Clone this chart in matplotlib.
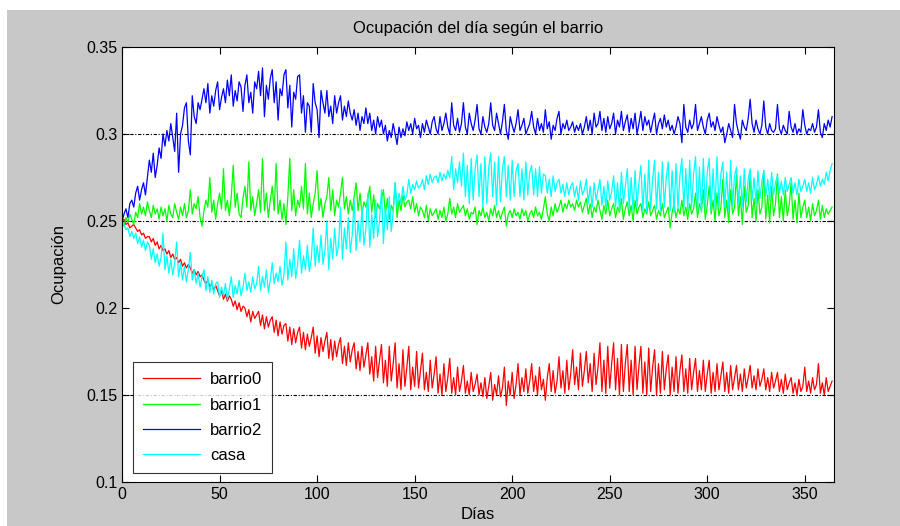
import matplotlib
matplotlib.use('Agg')
import matplotlib.pyplot as plt
import numpy as np
from matplotlib.patches import Rectangle

plt.rcParams['font.family'] = ['Liberation Sans Narrow', 'Liberation Sans', 'DejaVu Sans']

# daily occupancy, in thousandths, one row per week
barrio0 = [
    250, 251, 248, 249, 246, 247, 248,
    246, 244, 245, 242, 243, 240, 241,
    241, 238, 240, 236, 238, 234, 236,
    233, 234, 231, 233, 229, 231, 228,
    229, 226, 228, 224, 226, 223, 225,
    223, 220, 222, 219, 221, 218, 219,
    216, 214, 216, 212, 214, 210, 213,
    210, 207, 210, 205, 208, 204, 207,
    205, 201, 204, 199, 203, 198, 201,
    200, 195, 199, 192, 198, 194, 196,
    198, 190, 196, 188, 195, 189, 193,
    195, 186, 193, 184, 192, 185, 190,
    191, 181, 189, 179, 188, 180, 186,
    189, 177, 186, 176, 185, 178, 183,
    189, 174, 184, 172, 183, 175, 181,
    186, 171, 182, 170, 181, 172, 179,
    183, 168, 178, 167, 180, 169, 176,
    180, 165, 175, 164, 178, 166, 173,
    180, 162, 172, 158, 178, 160, 170,
    179, 157, 170, 155, 178, 158, 168,
    180, 154, 168, 153, 176, 155, 166,
    178, 153, 166, 155, 175, 154, 164,
    174, 153, 163, 152, 170, 154, 162,
    172, 151, 162, 150, 168, 152, 160,
    171, 151, 160, 150, 166, 152, 158,
    167, 151, 158, 150, 163, 152, 156,
    162, 150, 157, 149, 160, 148, 155,
    163, 147, 156, 150, 161, 149, 154,
    166, 144, 158, 150, 163, 148, 156,
    168, 150, 160, 152, 165, 151, 158,
    168, 152, 161, 150, 166, 153, 159,
    147, 160, 168, 152, 164, 151, 158,
    172, 154, 164, 151, 170, 153, 162,
    176, 156, 166, 153, 174, 155, 164,
    175, 157, 168, 152, 174, 156, 166,
    180, 152, 170, 151, 178, 154, 168,
    180, 153, 171, 150, 179, 152, 168,
    179, 152, 170, 150, 178, 153, 167,
    178, 151, 169, 150, 177, 152, 166,
    176, 150, 168, 151, 175, 153, 165,
    173, 150, 166, 152, 172, 151, 164,
    173, 152, 165, 151, 171, 153, 163,
    171, 152, 164, 153, 170, 152, 162,
    170, 151, 163, 152, 168, 153, 161,
    169, 152, 163, 151, 167, 153, 160,
    167, 153, 162, 152, 165, 154, 160,
    167, 154, 161, 153, 165, 155, 159,
    165, 153, 160, 152, 163, 154, 158,
    163, 152, 159, 151, 162, 153, 157,
    160, 151, 157, 150, 159, 152, 155,
    166, 152, 158, 151, 160, 153, 156,
    168, 151, 157, 150, 160, 152, 155,
    158,
]

barrio1 = [
    250, 247, 252, 249, 254, 251, 248,
    255, 252, 260, 254, 258, 253, 261,
    256, 252, 259, 254, 257, 251, 258,
    253, 257, 250, 259, 254, 252, 260,
    255, 251, 258, 253, 260, 252, 256,
    268, 254, 260, 257, 264, 252, 247,
    256, 262, 258, 275, 255, 262, 251,
    260, 266, 257, 280, 256, 262, 253,
    264, 282, 258, 266, 254, 252, 263,
    270, 258, 284, 256, 264, 253, 260,
    268, 255, 286, 256, 266, 252, 262,
    270, 256, 283, 254, 262, 251, 260,
    248, 264, 286, 256, 268, 253, 262,
    258, 270, 257, 283, 254, 266, 252,
    260, 266, 279, 256, 263, 252, 260,
    264, 275, 256, 268, 253, 262, 258,
    266, 275, 257, 264, 254, 262, 256,
    264, 272, 256, 266, 254, 261, 258,
    263, 270, 255, 265, 252, 260, 257,
    262, 268, 254, 263, 251, 259, 256,
    272, 252, 262, 256, 265, 258, 261,
    262, 257, 264, 255, 260, 253, 258,
    256, 252, 259, 250, 257, 253, 255,
    257, 251, 256, 252, 258, 250, 254,
    263, 254, 258, 252, 260, 255, 257,
    259, 253, 257, 251, 255, 254, 258,
    248, 256, 253, 258, 252, 255, 250,
    257, 253, 259, 252, 256, 251, 255,
    258, 247, 254, 256, 252, 257, 253,
    255, 251, 257, 253, 256, 250, 254,
    256, 252, 258, 253, 255, 251, 257,
    264, 254, 250, 258, 253, 260, 255,
    258, 262, 255, 260, 257, 262, 258,
    260, 256, 262, 258, 261, 255, 259,
    263, 254, 260, 252, 258, 255, 262,
    256, 251, 259, 254, 262, 253, 257,
    260, 252, 258, 255, 263, 251, 257,
    261, 253, 259, 250, 262, 254, 258,
    260, 252, 257, 254, 261, 253, 256,
    259, 251, 256, 253, 260, 252, 255,
    258, 246, 255, 260, 252, 257, 254,
    262, 253, 258, 251, 260, 254, 257,
    266, 252, 260, 256, 268, 251, 259,
    270, 254, 262, 250, 266, 253, 258,
    274, 252, 262, 249, 268, 254, 258,
    277, 253, 264, 248, 270, 255, 259,
    277, 252, 263, 250, 268, 254, 258,
    279, 251, 265, 249, 270, 253, 260,
    277, 252, 264, 250, 268, 253, 259,
    272, 251, 262, 249, 266, 252, 258,
    262, 252, 258, 250, 260, 253, 256,
    262, 251, 259, 252, 257, 254, 256,
    258,
]

barrio2 = [
    250, 254, 257, 252, 260, 262, 258,
    266, 270, 262, 268, 272, 265, 275,
    285, 278, 289, 275, 282, 292, 286,
    300, 293, 302, 296, 306, 298, 290,
    312, 278, 300, 305, 315, 318, 296,
    288, 322, 310, 306, 318, 314, 320,
    326, 318, 329, 312, 322, 316, 325,
    330, 314, 321, 326, 318, 331, 322,
    334, 316, 325, 319, 330, 327, 313,
    328, 334, 318, 324, 312, 330, 326,
    336, 322, 338, 310, 328, 320, 332,
    337, 318, 330, 308, 326, 322, 334,
    337, 315, 328, 304, 324, 320, 333,
    334, 312, 322, 301, 318, 316, 301,
    329, 318, 314, 298, 325, 318, 312,
    325, 310, 316, 306, 322, 312, 318,
    322, 308, 316, 310, 319, 312, 308,
    314, 305, 312, 302, 310, 306, 315,
    306, 312, 302, 308, 300, 310, 304,
    308, 300, 305, 296, 302, 298, 306,
    300, 294, 304, 298, 303, 299, 307,
    302, 306, 300, 309, 303, 305, 298,
    306, 301, 308, 304, 300, 307, 310,
    303, 300, 310, 302, 306, 312, 304,
    300, 318, 305, 302, 309, 301, 306,
    318, 304, 300, 312, 306, 302, 308,
    317, 303, 300, 310, 304, 301, 306,
    318, 305, 302, 312, 306, 300, 307,
    317, 302, 297, 310, 305, 301, 306,
    314, 302, 305, 309, 300, 303, 306,
    313, 304, 300, 309, 302, 306, 301,
    314, 303, 307, 297, 305, 302, 309,
    313, 300, 306, 303, 308, 302, 304,
    307, 301, 305, 302, 306, 300, 304,
    310, 302, 308, 300, 312, 304, 306,
    313, 302, 309, 301, 310, 303, 306,
    312, 300, 308, 304, 313, 302, 307,
    311, 301, 309, 303, 312, 300, 306,
    313, 302, 310, 305, 308, 301, 307,
    312, 300, 306, 309, 303, 311, 304,
    308, 302, 305, 300, 304, 310, 306,
    295, 317, 304, 301, 308, 303, 306,
    317, 302, 306, 310, 304, 300, 308,
    312, 304, 307, 302, 310, 305, 301,
    304, 295, 300, 306, 302, 298, 317,
    306, 301, 297, 308, 304, 302, 309,
    320, 306, 301, 308, 303, 300, 305,
    319, 304, 300, 306, 302, 301, 303,
    317, 303, 300, 305, 302, 300, 313,
    304, 301, 306, 300, 303, 301, 314,
    305, 300, 303, 302, 306, 301, 304,
    314, 301, 298, 306, 302, 308, 304,
    310,
]

casa = [
    250, 248, 245, 246, 241, 244, 240,
    243, 237, 241, 235, 239, 233, 238,
    236, 228, 234, 226, 231, 224, 229,
    243, 222, 230, 220, 228, 219, 226,
    238, 218, 226, 216, 224, 215, 222,
    232, 216, 222, 214, 220, 212, 218,
    222, 210, 218, 209, 216, 208, 214,
    215, 206, 212, 207, 214, 205, 211,
    218, 206, 213, 208, 216, 207, 212,
    220, 210, 215, 209, 218, 211, 214,
    224, 210, 218, 212, 222, 209, 216,
    226, 214, 220, 215, 224, 213, 219,
    238, 216, 228, 218, 234, 217, 225,
    239, 220, 230, 222, 236, 221, 228,
    246, 224, 236, 226, 242, 225, 233,
    250, 222, 240, 228, 246, 230, 236,
    258, 228, 246, 234, 252, 232, 242,
    262, 233, 250, 238, 258, 236, 246,
    266, 235, 254, 240, 262, 241, 250,
    268, 237, 258, 245, 264, 244, 255,
    272, 258, 266, 260, 270, 262, 265,
    274, 266, 271, 268, 273, 269, 270,
    274, 268, 276, 271, 277, 272, 275,
    276, 272, 278, 273, 277, 274, 279,
    275, 287, 268, 280, 272, 284, 270,
    289, 264, 282, 260, 286, 262, 280,
    288, 264, 283, 258, 287, 260, 281,
    289, 264, 284, 259, 287, 261, 280,
    287, 264, 282, 262, 285, 264, 279,
    283, 264, 280, 262, 284, 265, 278,
    282, 265, 280, 264, 281, 266, 277,
    276, 266, 274, 264, 276, 267, 272,
    274, 266, 271, 264, 272, 265, 270,
    272, 264, 270, 262, 273, 265, 268,
    274, 260, 270, 258, 272, 262, 268,
    274, 259, 270, 258, 273, 262, 267,
    276, 258, 272, 256, 278, 260, 270,
    280, 257, 275, 256, 279, 258, 272,
    282, 256, 277, 255, 285, 257, 274,
    285, 257, 278, 256, 284, 258, 275,
    284, 256, 279, 255, 283, 257, 276,
    286, 257, 280, 256, 285, 258, 277,
    287, 256, 281, 255, 286, 257, 278,
    286, 256, 280, 257, 287, 258, 277,
    284, 258, 278, 256, 285, 259, 276,
    281, 260, 276, 258, 280, 261, 274,
    280, 262, 275, 260, 279, 263, 273,
    279, 264, 274, 262, 278, 265, 272,
    276, 266, 273, 265, 275, 267, 271,
    275, 266, 272, 265, 274, 267, 270,
    274, 267, 272, 266, 275, 268, 271,
    276, 270, 274, 271, 278, 273, 279,
    283,
]

series_names = ['barrio0', 'barrio1', 'barrio2', 'casa']
series_colors = ['#ff0000', '#00ff00', '#0000ff', '#00ffff']
ref_levels = [0.15, 0.25, 0.3]

fig = plt.figure(figsize=(9, 5.26), dpi=100, facecolor='white')
fig.patches.append(Rectangle((7 / 900, 0), 1, 1 - 10 / 526, transform=fig.transFigure,
                             facecolor='#c8c8c8', edgecolor='none', zorder=-10))
ax = fig.add_axes([0.1356, 0.0837, 0.7911, 0.8269])
ax.set_facecolor('white')

for name, vals, col in zip(series_names, [barrio0, barrio1, barrio2, casa], series_colors):
    y = np.array(vals) / 1000.0
    ax.plot(np.arange(len(y)), y, color=col, lw=0.9, label=name)

for lvl in ref_levels:
    ax.axhline(lvl, color='black', lw=0.8, ls=(0, (3, 1.5, 1, 1.5)), zorder=1)

ax.set_xlim(0, 365)
ax.set_ylim(0.1, 0.35)
ax.set_xticks(np.arange(0, 351, 50))
ax.set_yticks([0.1, 0.15, 0.2, 0.25, 0.3, 0.35])
ax.set_yticklabels(['0.1', '0.15', '0.2', '0.25', '0.3', '0.35'])
ax.tick_params(direction='in', top=True, right=True, length=5, width=0.8, labelsize=11.5)
for sp in ax.spines.values():
    sp.set_linewidth(0.8)

ax.set_title('Ocupación del día según el barrio', fontsize=12, pad=10)
ax.set_xlabel('Días', fontsize=12, labelpad=4)
ax.set_ylabel('Ocupación', fontsize=12, labelpad=14)

leg = ax.legend(loc='lower left', bbox_to_anchor=(0.016, 0.02), fontsize=12, frameon=True,
                fancybox=False, edgecolor='black', handlelength=3.4, handletextpad=0.6,
                borderpad=0.6, labelspacing=0.62, borderaxespad=0)
leg.get_frame().set_linewidth(0.8)

fig.savefig('out.png', dpi=100, facecolor=fig.get_facecolor())
